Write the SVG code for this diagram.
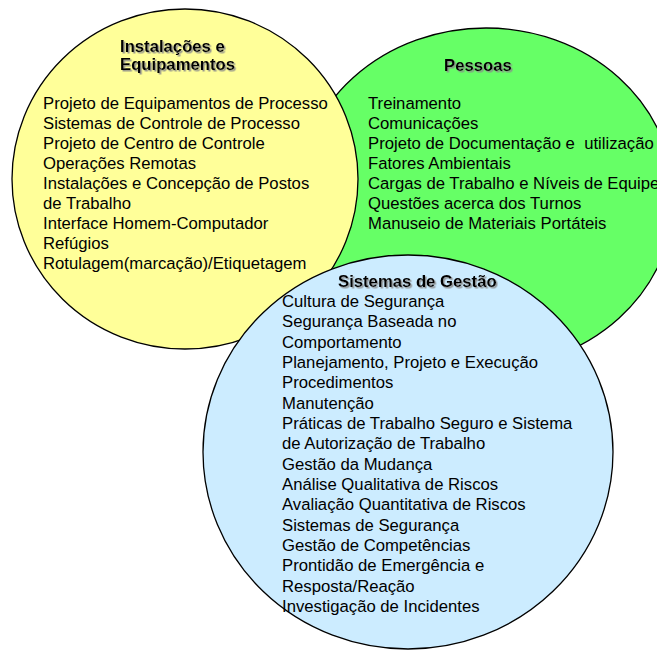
<svg xmlns="http://www.w3.org/2000/svg" width="657" height="650" viewBox="0 0 657 650">
  <defs>
    <filter id="shadow" x="-10%" y="-30%" width="130%" height="180%">
      <feDropShadow dx="1.5" dy="1.5" stdDeviation="0.7" flood-color="#8a8a8a" flood-opacity="0.9"/>
    </filter>
  </defs>
  <style>
    .area { stroke: #000; stroke-width: 1.3; }
    .txt { font-family: "Liberation Sans", Arial, sans-serif; font-size: 16.7px; fill: #000; white-space: pre; }
    .title { font-family: "Liberation Sans", Arial, sans-serif; font-size: 16.7px; font-weight: bold; fill: #000; filter: url(#shadow); }
  </style>
  <rect width="657" height="650" fill="#ffffff"/>

  <!-- People -->
  <g id="pessoas">
    <ellipse class="area" cx="486" cy="198" rx="188" ry="170" fill="#66ff66"/>
    <text class="title" x="444" y="71">Pessoas</text>
    <text class="txt" x="368" y="109">Treinamento</text>
    <text class="txt" x="368" y="129">Comunicações</text>
    <text class="txt" x="368" y="149">Projeto de Documentação e  utilização</text>
    <text class="txt" x="368" y="169">Fatores Ambientais</text>
    <text class="txt" x="368" y="189">Cargas de Trabalho e Níveis de Equipe</text>
    <text class="txt" x="368" y="209">Questões acerca dos Turnos</text>
    <text class="txt" x="368" y="229">Manuseio de Materiais Portáteis</text>
  </g>

  <!-- Facilities and equipment -->
  <g id="instalacoes">
    <ellipse class="area" cx="185" cy="179" rx="173" ry="170" fill="#ffff99"/>
    <text class="title" x="120" y="52">Instalações e</text>
    <text class="title" x="120" y="70">Equipamentos</text>
    <text class="txt" x="43" y="109">Projeto de Equipamentos de Processo</text>
    <text class="txt" x="43" y="129">Sistemas de Controle de Processo</text>
    <text class="txt" x="43" y="149">Projeto de Centro de Controle</text>
    <text class="txt" x="43" y="169">Operações Remotas</text>
    <text class="txt" x="43" y="189">Instalações e Concepção de Postos</text>
    <text class="txt" x="43" y="209">de Trabalho</text>
    <text class="txt" x="43" y="229">Interface Homem-Computador</text>
    <text class="txt" x="43" y="249">Refúgios</text>
    <text class="txt" x="43" y="269">Rotulagem(marcação)/Etiquetagem</text>
  </g>

  <!-- Management systems -->
  <g id="gestao">
    <ellipse class="area" cx="408" cy="452" rx="205" ry="197" fill="#ccecff"/>
    <text class="title" x="338" y="287">Sistemas de Gestão</text>
    <text class="txt" x="282" y="307">Cultura de Segurança</text>
    <text class="txt" x="282" y="327.3">Segurança Baseada no</text>
    <text class="txt" x="282" y="347.7">Comportamento</text>
    <text class="txt" x="282" y="368">Planejamento, Projeto e Execução</text>
    <text class="txt" x="282" y="388.3">Procedimentos</text>
    <text class="txt" x="282" y="408.7">Manutenção</text>
    <text class="txt" x="282" y="429">Práticas de Trabalho Seguro e Sistema</text>
    <text class="txt" x="282" y="449.3">de Autorização de Trabalho</text>
    <text class="txt" x="282" y="469.7">Gestão da Mudança</text>
    <text class="txt" x="282" y="490">Análise Qualitativa de Riscos</text>
    <text class="txt" x="282" y="510.3">Avaliação Quantitativa de Riscos</text>
    <text class="txt" x="282" y="530.7">Sistemas de Segurança</text>
    <text class="txt" x="282" y="551">Gestão de Competências</text>
    <text class="txt" x="282" y="571.3">Prontidão de Emergência e</text>
    <text class="txt" x="282" y="591.7">Resposta/Reação</text>
    <text class="txt" x="282" y="612">Investigação de Incidentes</text>
  </g>
</svg>
